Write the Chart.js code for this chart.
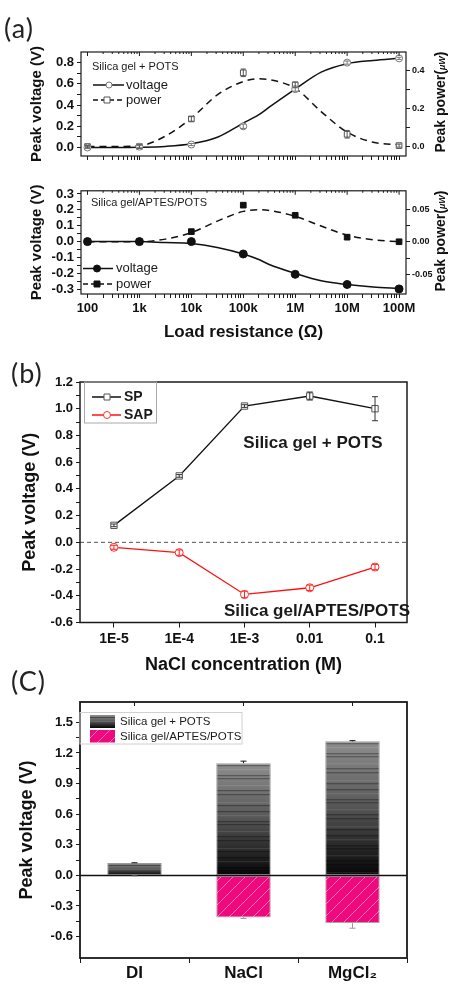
<!DOCTYPE html>
<html>
<head>
<meta charset="utf-8">
<title>Peak voltage and peak power</title>
<script src="https://cdn.jsdelivr.net/npm/chart.js@4.4.1/dist/chart.umd.min.js"></script>
<style>
  html, body { margin: 0; padding: 0; background: #fff; }
  body { position: relative; width: 453px; height: 984px; overflow: hidden; font-family: 'Liberation Sans', Arial, sans-serif; color: #111; }
  canvas { position: absolute; left: 0; }
  .tag { position: absolute; z-index: 2; font-family: Lato, 'Open Sans', sans-serif; font-size: 27px; line-height: 1; color: #222; letter-spacing: 1px; }
  .rtitle { position: absolute; z-index: 2; white-space: nowrap; font-weight: bold; font-size: 14px; color: #111; transform: translate(-50%, -50%) rotate(-90deg); }
  .rtitle i { font-size: 9px; }
</style>
</head>
<body>
<div class="tag" style="left:4px;top:14px">(a)</div>
<div class="tag" style="left:11px;top:359px">(b)</div>
<div class="tag" style="left:11px;top:667px">(C)</div>
<canvas id="chartA1" width="453" height="128" style="top:40px"></canvas>
<canvas id="chartA2" width="453" height="165" style="top:180px"></canvas>
<canvas id="chartB" width="453" height="310" style="top:368px"></canvas>
<canvas id="chartC" width="453" height="294" style="top:690px"></canvas>
<div class="rtitle" style="left:440px;top:102px">Peak power(<i>μW</i>)</div>
<div class="rtitle" style="left:440px;top:241px">Peak power(<i>μW</i>)</div>
<script>
// ---- (a) load resistance sweep ----
const resistance = [1e2, 1e3, 1e4, 1e5, 1e6, 1e7, 1e8];
const resistanceLabels = ['100', '1k', '10k', '100k', '1M', '10M', '100M'];
const fitResistance = [1e2, 3.16e2, 1e3, 3.16e3, 1e4, 3.16e4, 1e5, 2e5, 3.16e5, 1e6, 3.16e6, 1e7, 3.16e7, 1e8];

// Silica gel + POTS
const spVoltage = [0, 0.008, 0.028, 0.2, 0.55, 0.8, 0.84];
const spVoltageErr = [0.01, 0.01, 0.01, 0.02, 0.02, 0.015, 0.01];
const spPower = [0, 0, 0.146, 0.39, 0.326, 0.065, 0.005];
const spPowerErr = [0.006, 0.01, 0.012, 0.02, 0.015, 0.02, 0.008];
const spVoltageFit = [0, 0, 0.002, 0.01, 0.035, 0.097, 0.23, 0.31, 0.38, 0.55, 0.71, 0.79, 0.82, 0.84];
const spPowerFit = [0, 0, 0.004, 0.055, 0.15, 0.273, 0.344, 0.358, 0.354, 0.308, 0.185, 0.076, 0.023, 0.009];

// Silica gel/APTES/POTS
const sapVoltage = [0, 0, 0, -0.078, -0.206, -0.27, -0.298];
const sapPower = [0, 0, 0.0155, 0.056, 0.0405, 0.007, 0];
const sapVoltageFit = [0, 0, 0, -0.006, -0.012, -0.037, -0.078, -0.113, -0.144, -0.2, -0.247, -0.27, -0.286, -0.296];
const sapPowerFit = [0, 0, 0, 0.004, 0.014, 0.0315, 0.0465, 0.049, 0.048, 0.039, 0.024, 0.01, 0.003, 0];

const voltTicksA1 = [0, 0.2, 0.4, 0.6, 0.8];
const powerTicksA1 = [0, 0.2, 0.4];
const voltTicksA2 = [-0.3, -0.2, -0.1, 0, 0.1, 0.2, 0.3];
const powerTicksA2 = [-0.05, 0, 0.05];

// ---- (b) NaCl concentration ----
const concLabels = ['1E-5', '1E-4', '1E-3', '0.01', '0.1'];
const spConc = [0.127, 0.497, 1.02, 1.095, 1.0];
const spConcErr = [0.01, 0.01, 0.01, 0.03, 0.09];
const sapConc = [-0.037, -0.077, -0.39, -0.34, -0.185];
const sapConcErr = [0.015, 0.02, 0.025, 0.02, 0.02];
const voltTicksB = [-0.6, -0.4, -0.2, 0, 0.2, 0.4, 0.6, 0.8, 1.0, 1.2];

// ---- (c) electrolytes ----
const ionLabels = ['DI', 'NaCl', 'MgCl₂'];
const spIon = [0.121, 1.10, 1.315];
const spIonErr = [0.003, 0.02, 0.006];
const sapIon = [-0.004, -0.412, -0.468];
const sapIonErr = [0.003, 0.01, 0.05];
const voltTicksC = [-0.6, -0.3, 0, 0.3, 0.6, 0.9, 1.2, 1.5];

Chart.defaults.font.family = "'Liberation Sans', Arial, sans-serif";
Chart.defaults.color = '#111';

const pts = (xs, ys) => xs.map((x, i) => ({ x, y: ys[i] }));
const withMinors = (majors) => {
  const out = [];
  majors.forEach((v, i) => {
    out.push({ value: v, major: true });
    if (i < majors.length - 1) out.push({ value: (v + majors[i + 1]) / 2, major: false });
  });
  return out;
};
const decadeTicks = () => {
  const out = [];
  resistance.forEach((r, i) => {
    out.push({ value: r, major: true });
    if (i < resistance.length - 1) for (let m = 2; m < 10; m++) out.push({ value: r * m, major: false });
  });
  return out;
};

// pink hatched fill
const hatch = (() => {
  const c = document.createElement('canvas');
  c.width = c.height = 12;
  const g = c.getContext('2d');
  g.fillStyle = '#ee0a7e';
  g.fillRect(0, 0, 12, 12);
  g.strokeStyle = 'rgba(255,255,255,0.55)';
  g.lineWidth = 0.8;
  g.beginPath();
  g.moveTo(-1, 13); g.lineTo(13, -1);
  g.moveTo(-7, 7); g.lineTo(7, -7);
  g.moveTo(5, 19); g.lineTo(19, 5);
  g.stroke();
  return g.createPattern(c, 'repeat');
})();

const grayGrad = (ctx, top, base) => {
  const g = ctx.createLinearGradient(0, top, 0, base);
  g.addColorStop(0, '#8e8e8e');
  g.addColorStop(0.45, '#5c5c5c');
  g.addColorStop(1, '#060606');
  return g;
};
const stripeGaps = [4, 6, 3, 7, 5, 4, 8, 3, 6];
const drawStripes = (ctx, x0, x1, top, base) => {
  let y = top + 2, k = 0;
  while (y < base - 1) {
    ctx.strokeStyle = k % 3 === 1 ? 'rgba(255,255,255,0.12)' : 'rgba(0,0,0,0.4)';
    ctx.beginPath(); ctx.moveTo(x0, y + 0.5); ctx.lineTo(x1, y + 0.5); ctx.stroke();
    y += stripeGaps[k % stripeGaps.length]; k++;
  }
};

const mark = (ctx, style, x, y, r, stroke, fill) => {
  ctx.beginPath();
  if (style === 'rect') ctx.rect(x - r, y - r, 2 * r, 2 * r);
  else ctx.arc(x, y, r, 0, Math.PI * 2);
  ctx.fillStyle = fill; ctx.fill();
  ctx.lineWidth = 1; ctx.strokeStyle = stroke; ctx.stroke();
};

// stripes on bars, zero line and error bars
const decor = {
  id: 'decor',
  afterDatasetsDraw(chart, args, opts) {
    const ctx = chart.ctx;
    const area = chart.chartArea;
    ctx.save();
    chart.data.datasets.forEach((ds, di) => {
      if (!ds.stripes) return;
      chart.getDatasetMeta(di).data.forEach(el => {
        const p = el.getProps(['x', 'y', 'base', 'width'], true);
        ctx.lineWidth = 1;
        drawStripes(ctx, p.x - p.width / 2 + 1, p.x + p.width / 2 - 1, Math.min(p.y, p.base), Math.max(p.y, p.base));
      });
    });
    if (opts.zero) {
      const y0 = chart.scales.y.getPixelForValue(0);
      ctx.strokeStyle = opts.zero.color; ctx.lineWidth = opts.zero.width;
      ctx.setLineDash(opts.zero.dash || []);
      ctx.beginPath(); ctx.moveTo(area.left, y0); ctx.lineTo(area.right, y0); ctx.stroke();
      ctx.setLineDash([]);
    }
    chart.data.datasets.forEach((ds, di) => {
      if (!ds.errors) return;
      const meta = chart.getDatasetMeta(di);
      const ys = chart.scales[meta.yAxisID];
      ctx.strokeStyle = ds.errorColor || '#000';
      ctx.lineWidth = 1;
      meta.data.forEach((el, i) => {
        const e = ds.errors[i];
        const d = ds.data[i];
        const v = typeof d === 'object' ? d.y : d;
        const cap = ds.errorCap || 3;
        let hi = v + e, lo = v - e;
        if (ds.errorOneSide) { if (v >= 0) lo = v; else hi = v; }
        const yt = ys.getPixelForValue(hi), yb = ys.getPixelForValue(lo);
        ctx.beginPath();
        ctx.moveTo(el.x, yt); ctx.lineTo(el.x, yb);
        if (!ds.errorOneSide || v < 0) { ctx.moveTo(el.x - cap, yb); ctx.lineTo(el.x + cap, yb); }
        if (!ds.errorOneSide || v >= 0) { ctx.moveTo(el.x - cap, yt); ctx.lineTo(el.x + cap, yt); }
        ctx.stroke();
      });
    });
    ctx.restore();
  }
};

// plot frame, inward top ticks, legends and notes
const frame = {
  id: 'frame',
  afterDraw(chart, args, opts) {
    const ctx = chart.ctx;
    const a = chart.chartArea;
    ctx.save();
    ctx.strokeStyle = '#1a1a1a';
    ctx.lineWidth = opts.width || 1.2;
    ctx.strokeRect(a.left, a.top, a.right - a.left, a.bottom - a.top);
    if (opts.topTicks) {
      const xs = chart.scales.x;
      ctx.lineWidth = 1;
      xs.ticks.forEach((t, i) => {
        const x = xs.getPixelForTick(i);
        const len = t.major === false ? 2 : 4;
        ctx.beginPath(); ctx.moveTo(x, a.top); ctx.lineTo(x, a.top + len); ctx.stroke();
      });
    }
    ctx.translate(0, opts.dy || 0);
    (opts.shapes || []).forEach(s => {
      if (s.type === 'box') {
        ctx.strokeStyle = s.color; ctx.lineWidth = 1;
        ctx.strokeRect(s.x, s.y, s.w, s.h);
      } else if (s.type === 'line') {
        ctx.strokeStyle = s.color || '#111'; ctx.lineWidth = s.width || 1.5;
        ctx.setLineDash(s.dash || []);
        ctx.beginPath(); ctx.moveTo(s.x0, s.y); ctx.lineTo(s.x1, s.y); ctx.stroke();
        ctx.setLineDash([]);
      } else if (s.type === 'mark') {
        mark(ctx, s.style, s.x, s.y, s.r, s.stroke, s.fill);
      } else if (s.type === 'swatch') {
        if (s.fill === 'gray') {
          ctx.fillStyle = grayGrad(ctx, s.y, s.y + s.h);
          ctx.fillRect(s.x, s.y, s.w, s.h);
          ctx.lineWidth = 1;
          drawStripes(ctx, s.x, s.x + s.w, s.y, s.y + s.h);
        } else {
          ctx.fillStyle = hatch;
          ctx.fillRect(s.x, s.y, s.w, s.h);
        }
      } else if (s.type === 'text') {
        ctx.font = s.font;
        ctx.fillStyle = s.color || '#1a1a1a';
        ctx.textAlign = s.align || 'left';
        ctx.textBaseline = 'middle';
        ctx.fillText(s.text, s.x, s.y);
      }
    });
    ctx.restore();
  }
};
Chart.register(decor, frame);

const FONT = "'Liberation Sans', Arial, sans-serif";
const tickFont = (size) => ({ size, weight: 'bold' });
const noGrid = (len) => ({ drawOnChartArea: false, tickLength: len, color: '#1a1a1a', lineWidth: 1 });

const logX = (showLabels, height) => ({
  type: 'logarithmic',
  min: 75,
  max: 1.36e8,
  afterBuildTicks: s => { s.ticks = decadeTicks(); },
  afterFit: s => { s.height = height; },
  grid: noGrid(4),
  border: { display: false },
  ticks: {
    display: showLabels, autoSkip: false, maxRotation: 0, padding: 3, font: tickFont(13),
    callback: (v, i, t) => t[i].major ? resistanceLabels[resistance.indexOf(v)] : ''
  },
  title: { display: showLabels, text: 'Load resistance (Ω)', font: { size: 17, weight: 'bold' }, padding: { top: 0, bottom: 2 } }
});

const sideY = (opts) => ({
  type: 'linear',
  position: opts.position,
  min: opts.min,
  max: opts.max,
  afterBuildTicks: s => { s.ticks = withMinors(opts.ticks); },
  afterFit: s => { s.width = opts.width; },
  grid: noGrid(4),
  border: { display: false },
  ticks: {
    autoSkip: false, padding: opts.padding || 3, font: tickFont(opts.size),
    callback: (v, i, t) => t[i].major ? v.toFixed(opts.digits) : ''
  },
  title: opts.title ? { display: true, text: opts.title, font: { size: opts.titleSize, weight: 'bold' }, padding: { top: opts.titlePad } } : { display: false }
});

const baseOptions = (extra) => Object.assign({
  responsive: false,
  animation: false,
  events: [],
  plugins: { legend: { display: false }, tooltip: { enabled: false } }
}, extra);

// ---- (a) upper panel ----
new Chart(document.getElementById('chartA1'), {
  type: 'line',
  data: {
    datasets: [
      { label: 'voltage', data: pts(resistance, spVoltage), yAxisID: 'y', showLine: false, pointStyle: 'circle', pointRadius: 3.5, pointBackgroundColor: '#fff', pointBorderColor: '#777', pointBorderWidth: 1, errors: spVoltageErr, errorColor: '#777', errorCap: 2.5 },
      { label: 'power', data: pts(resistance, spPower), yAxisID: 'y2', showLine: false, pointStyle: 'rect', pointRadius: 4, pointBackgroundColor: '#fff', pointBorderColor: '#555', pointBorderWidth: 1, errors: spPowerErr, errorColor: '#555', errorCap: 2.5 },
      { label: 'voltage fit', data: pts(fitResistance, spVoltageFit), yAxisID: 'y', borderColor: '#111', borderWidth: 1.5, pointRadius: 0, cubicInterpolationMode: 'monotone' },
      { label: 'power fit', data: pts(fitResistance, spPowerFit), yAxisID: 'y2', borderColor: '#111', borderWidth: 1.5, borderDash: [7, 5], pointRadius: 0, cubicInterpolationMode: 'monotone' }
    ]
  },
  options: baseOptions({
    layout: { padding: { top: 12 } },
    plugins: {
      legend: { display: false }, tooltip: { enabled: false },
      frame: {
        dy: -40, topTicks: true, width: 1.2,
        shapes: [
          { type: 'text', text: 'Silica gel + POTS', x: 92, y: 67, font: '11px ' + FONT },
          { type: 'line', x0: 93, x1: 124, y: 85 },
          { type: 'mark', style: 'circle', x: 109, y: 85, r: 3, stroke: '#777', fill: '#fff' },
          { type: 'text', text: 'voltage', x: 126, y: 85, font: '13px ' + FONT },
          { type: 'line', x0: 93, x1: 124, y: 100, dash: [5, 3] },
          { type: 'mark', style: 'rect', x: 107, y: 100, r: 3, stroke: '#555', fill: '#fff' },
          { type: 'text', text: 'power', x: 126, y: 100, font: '13px ' + FONT }
        ]
      }
    },
    scales: {
      x: logX(false, 12),
      y: sideY({ position: 'left', min: -0.08, max: 0.9, ticks: voltTicksA1, width: 81, size: 13, digits: 1, title: 'Peak voltage (V)', titleSize: 15, titlePad: 28 }),
      y2: sideY({ position: 'right', min: -0.05, max: 0.5, ticks: powerTicksA1, width: 47, size: 9, digits: 1, padding: 2 })
    }
  })
});

// ---- (a) lower panel ----
new Chart(document.getElementById('chartA2'), {
  type: 'line',
  data: {
    datasets: [
      { label: 'voltage', data: pts(resistance, sapVoltage), yAxisID: 'y', showLine: false, pointStyle: 'circle', pointRadius: 4, pointBackgroundColor: '#111', pointBorderColor: '#111' },
      { label: 'power', data: pts(resistance, sapPower), yAxisID: 'y2', showLine: false, pointStyle: 'rect', pointRadius: 4, pointBackgroundColor: '#111', pointBorderColor: '#111' },
      { label: 'voltage fit', data: pts(fitResistance, sapVoltageFit), yAxisID: 'y', borderColor: '#111', borderWidth: 1.5, pointRadius: 0, cubicInterpolationMode: 'monotone' },
      { label: 'power fit', data: pts(fitResistance, sapPowerFit), yAxisID: 'y2', borderColor: '#111', borderWidth: 1.5, borderDash: [7, 5], pointRadius: 0, cubicInterpolationMode: 'monotone' }
    ]
  },
  options: baseOptions({
    layout: { padding: { top: 9 } },
    plugins: {
      legend: { display: false }, tooltip: { enabled: false },
      frame: {
        dy: -180, topTicks: true, width: 1.2,
        shapes: [
          { type: 'text', text: 'Silica gel/APTES/POTS', x: 91, y: 203, font: '11px ' + FONT },
          { type: 'line', x0: 83, x1: 113, y: 268.5 },
          { type: 'mark', style: 'circle', x: 97, y: 268.5, r: 3.5, stroke: '#111', fill: '#111' },
          { type: 'text', text: 'voltage', x: 116, y: 268, font: '13px ' + FONT },
          { type: 'line', x0: 83, x1: 113, y: 284, dash: [5, 3] },
          { type: 'mark', style: 'rect', x: 97, y: 284, r: 3, stroke: '#111', fill: '#111' },
          { type: 'text', text: 'power', x: 116, y: 284, font: '13px ' + FONT }
        ]
      }
    },
    scales: {
      x: logX(true, 51),
      y: sideY({ position: 'left', min: -0.33, max: 0.32, ticks: voltTicksA2, width: 81, size: 13, digits: 1, title: 'Peak voltage (V)', titleSize: 15, titlePad: 28 }),
      y2: sideY({ position: 'right', min: -0.08, max: 0.078, ticks: powerTicksA2, width: 47, size: 9, digits: 2, padding: 2 })
    }
  })
});

// ---- (b) ----
new Chart(document.getElementById('chartB'), {
  type: 'line',
  data: {
    datasets: [
      { label: 'SP', data: spConc.map((v, i) => ({ x: i, y: v })), borderColor: '#111', borderWidth: 1.3, pointStyle: 'rect', pointRadius: 4.5, pointBackgroundColor: '#fff', pointBorderColor: '#555', pointBorderWidth: 1, errors: spConcErr, errorColor: '#333', errorCap: 3 },
      { label: 'SAP', data: sapConc.map((v, i) => ({ x: i, y: v })), borderColor: '#ff1010', borderWidth: 1.3, pointStyle: 'circle', pointRadius: 4, pointBackgroundColor: '#fff', pointBorderColor: '#ff3030', pointBorderWidth: 1, errors: sapConcErr, errorColor: '#ff2020', errorCap: 3 }
    ]
  },
  options: baseOptions({
    layout: { padding: { top: 14, right: 46 } },
    plugins: {
      legend: { display: false }, tooltip: { enabled: false },
      decor: { zero: { color: '#555', width: 1, dash: [4, 3] } },
      frame: {
        dy: -368, width: 1.5,
        shapes: [
          { type: 'box', x: 84.5, y: 382, w: 72, h: 41, color: '#aaa' },
          { type: 'line', x0: 92, x1: 121, y: 397, color: '#111' },
          { type: 'mark', style: 'rect', x: 107, y: 397, r: 3, stroke: '#555', fill: '#fff' },
          { type: 'text', text: 'SP', x: 124, y: 397, font: 'bold 14px ' + FONT },
          { type: 'line', x0: 92, x1: 121, y: 415, color: '#ff1010' },
          { type: 'mark', style: 'circle', x: 107, y: 415, r: 3.5, stroke: '#ff3030', fill: '#fff' },
          { type: 'text', text: 'SAP', x: 124, y: 415, font: 'bold 14px ' + FONT },
          { type: 'text', text: 'Silica gel + POTS', x: 313, y: 443, font: 'bold 17px ' + FONT, align: 'center' },
          { type: 'text', text: 'Silica gel/APTES/POTS', x: 317, y: 611, font: 'bold 17px ' + FONT, align: 'center' }
        ]
      }
    },
    scales: {
      x: {
        type: 'linear', min: -0.52, max: 4.49,
        afterBuildTicks: s => { s.ticks = concLabels.map((_, i) => ({ value: i, major: true })); },
        afterFit: s => { s.height = 55.5; },
        grid: noGrid(5),
        border: { display: false },
        ticks: { autoSkip: false, maxRotation: 0, padding: 3, font: tickFont(14), callback: v => concLabels[Math.round(v)] },
        title: { display: true, text: 'NaCl concentration (M)', font: { size: 18, weight: 'bold' }, padding: { top: 0, bottom: 2 } }
      },
      y: sideY({ position: 'left', min: -0.6, max: 1.2, ticks: voltTicksB, width: 80, size: 13, digits: 1, title: 'Peak voltage (V)', titleSize: 18, titlePad: 19 })
    }
  })
});

// ---- (c) ----
new Chart(document.getElementById('chartC'), {
  type: 'bar',
  data: {
    labels: ionLabels,
    datasets: [
      {
        label: 'Silica gel + POTS', data: spIon, stripes: true,
        backgroundColor: (c) => {
          const ch = c.chart;
          if (!ch.chartArea || c.type !== 'data') return '#555';
          const ys = ch.scales.y;
          return grayGrad(ch.ctx, ys.getPixelForValue(c.raw), ys.getPixelForValue(0));
        },
        borderColor: '#9a9a9a', borderWidth: 1, borderSkipped: false,
        errors: spIonErr, errorColor: '#111', errorOneSide: true, errorCap: 3
      },
      {
        label: 'Silica gel/APTES/POTS', data: sapIon, backgroundColor: hatch,
        borderColor: '#a8a8a8', borderWidth: 1, borderSkipped: false,
        errors: sapIonErr, errorColor: '#999', errorOneSide: true, errorCap: 3
      }
    ]
  },
  options: baseOptions({
    layout: { padding: { top: 12, right: 46 } },
    datasets: { bar: { categoryPercentage: 1, barPercentage: 0.5 } },
    plugins: {
      legend: { display: false }, tooltip: { enabled: false },
      decor: { zero: { color: '#111', width: 1.5 } },
      frame: {
        dy: -690, width: 1.8, topTicks: true,
        shapes: [
          { type: 'box', x: 80, y: 712.5, w: 162, h: 31.5, color: '#d0d0d0' },
          { type: 'swatch', fill: 'gray', x: 90, y: 715, w: 25, h: 13 },
          { type: 'swatch', fill: 'pink', x: 90, y: 730, w: 25, h: 12.5 },
          { type: 'text', text: 'Silica gel + POTS', x: 120, y: 721.5, font: '11.5px ' + FONT },
          { type: 'text', text: 'Silica gel/APTES/POTS', x: 120, y: 736.5, font: '11.5px ' + FONT }
        ]
      }
    },
    scales: {
      x: {
        type: 'category', stacked: true,
        afterFit: s => { s.height = 26; },
        grid: { drawOnChartArea: false, tickLength: 5, color: '#1a1a1a', offset: true },
        border: { display: false },
        ticks: { padding: 0, font: tickFont(17) }
      },
      y: Object.assign(
        sideY({ position: 'left', min: -0.81, max: 1.7, ticks: voltTicksC, width: 80, size: 13, digits: 1, title: 'Peak voltage (V)', titleSize: 18, titlePad: 16 }),
        { stacked: true }
      )
    }
  })
});
</script>
</body>
</html>
